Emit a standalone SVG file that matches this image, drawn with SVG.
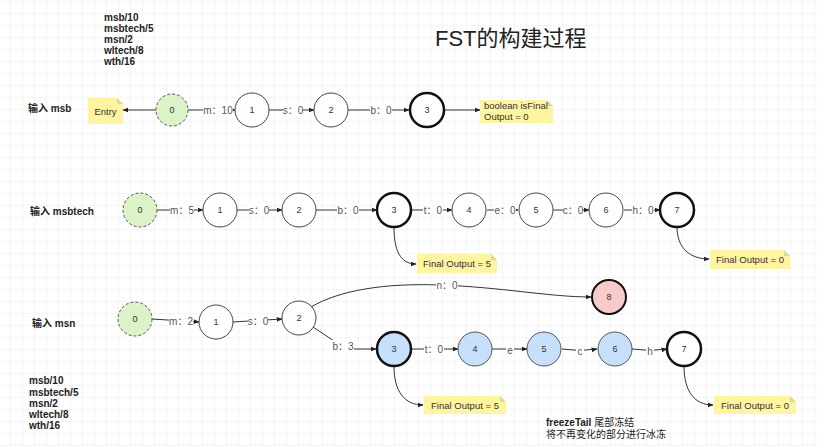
<svg xmlns="http://www.w3.org/2000/svg" width="818" height="446" viewBox="0 0 818 446">
<defs>
<pattern id="grid" x="10" y="1" width="12" height="12" patternUnits="userSpaceOnUse">
<path d="M0,0 H12 M0,0 V12" fill="none" stroke="#ececec" stroke-width="1"/>
</pattern>
<marker id="arr" viewBox="0 0 10 10" refX="9" refY="5" markerWidth="6" markerHeight="6" orient="auto" markerUnits="userSpaceOnUse">
<path d="M0,1 L10,5 L0,9 Z" fill="#222"/>
</marker>
</defs>
<style>
text{font-family:"Liberation Sans","Noto Sans CJK SC",sans-serif;}
.t{font-size:10px;font-weight:bold;fill:#222;}
.n{fill:#fff;stroke:#444;stroke-width:1;}
.thick{fill:#fff;stroke:#111;stroke-width:2.5;}
.start{fill:#dcf2c8;stroke:#555;stroke-width:1;stroke-dasharray:3 2;}
.blue{fill:#c7e0f9;stroke:#555;stroke-width:1;}
.bluethick{fill:#c7e0f9;stroke:#111;stroke-width:2.5;}
.red{fill:#f8caca;stroke:#111;stroke-width:2;}
.nl{font-size:9px;fill:#333;text-anchor:middle;dominant-baseline:central;}
.e{fill:none;stroke:#333;stroke-width:1;marker-end:url(#arr);}
.lb{fill:#fff;}
.el{font-size:10px;fill:#555;text-anchor:middle;dominant-baseline:central;}
.note{fill:#fff4a0;}
.fold{fill:#e0d89a;}
.ntx{font-size:9.5px;fill:#333;}
</style>
<rect width="818" height="446" fill="#fff"/>
<rect width="818" height="446" fill="url(#grid)"/>

<g id="title"><text x="435" y="46" font-size="22" fill="#222">FST的构建过程</text></g>

<g id="list-top">
<text class="t" x="104" y="21">msb/10</text>
<text class="t" x="104" y="32">msbtech/5</text>
<text class="t" x="104" y="43">msn/2</text>
<text class="t" x="104" y="54">wltech/8</text>
<text class="t" x="104" y="65">wth/16</text>
</g>
<g id="list-bottom">
<text class="t" x="29" y="384">msb/10</text>
<text class="t" x="29" y="396">msbtech/5</text>
<text class="t" x="29" y="407">msn/2</text>
<text class="t" x="29" y="418">wltech/8</text>
<text class="t" x="29" y="429">wth/16</text>
</g>

<g id="labels">
<text class="t" x="28" y="112">输入 msb</text>
<text class="t" x="30" y="215">输入 msbtech</text>
<text class="t" x="32" y="327">输入 msn</text>
</g>

<g id="connectors">
<!-- row 1 -->
<path class="e" d="M156,110 L123,110"/>
<path class="e" d="M188,110 L235,110"/>
<path class="e" d="M269,110 L314,110"/>
<path class="e" d="M348,110 L409,110"/>
<path class="e" d="M445,110 L480,110"/>
<rect class="lb" x="203" y="104" width="30" height="12"/><text class="el" x="218" y="110.5">m：10</text>
<rect class="lb" x="283" y="104" width="20" height="12"/><text class="el" x="293" y="110.5">s：0</text>
<rect class="lb" x="370" y="104" width="22" height="12"/><text class="el" x="381" y="110.5">b：0</text>
<!-- row 2 -->
<path class="e" d="M157,210 L203,210"/>
<path class="e" d="M237,210 L282,210"/>
<path class="e" d="M316,210 L377,210"/>
<path class="e" d="M412,210 L452,210"/>
<path class="e" d="M487,210 L518,210"/>
<path class="e" d="M553,210 L589,210"/>
<path class="e" d="M624,210 L660,210"/>
<path class="e" d="M394,227 C394,250 400,264 416,264"/>
<path class="e" d="M677,227 C677,248 690,259 709,259"/>
<rect class="lb" x="170" y="204" width="24" height="12"/><text class="el" x="182" y="210.5">m：5</text>
<rect class="lb" x="249" y="204" width="20" height="12"/><text class="el" x="259" y="210.5">s：0</text>
<rect class="lb" x="337" y="204" width="22" height="12"/><text class="el" x="348" y="210.5">b：0</text>
<rect class="lb" x="423" y="204" width="20" height="12"/><text class="el" x="433" y="210.5">t：0</text>
<rect class="lb" x="494" y="204" width="22" height="12"/><text class="el" x="505" y="210.5">e：0</text>
<rect class="lb" x="563" y="204" width="20" height="12"/><text class="el" x="573" y="210.5">c：0</text>
<rect class="lb" x="632" y="204" width="22" height="12"/><text class="el" x="643" y="210.5">h：0</text>
<!-- row 3 -->
<path class="e" d="M152,319 L199,322"/>
<path class="e" d="M233,322 L282,319"/>
<path class="e" d="M311,307 C340,290 385,283 440,285 C500,287 550,297 591,297"/>
<path class="e" d="M313,327 L337,343 Q342,348 352,349 L376,349"/>
<path class="e" d="M411,349 L458,349"/>
<path class="e" d="M492,349 L527,349"/>
<path class="e" d="M562,349 Q580,352 597,349"/>
<path class="e" d="M632,349 Q650,352 667,349"/>
<path class="e" d="M394,366 C394,392 405,405 423,405"/>
<path class="e" d="M684,366 C684,392 695,405 713,405"/>
<rect class="lb" x="169" y="315" width="24" height="12"/><text class="el" x="181" y="321">m：2</text>
<rect class="lb" x="248" y="315" width="20" height="12"/><text class="el" x="258" y="321">s：0</text>
<rect class="lb" x="436" y="279" width="22" height="12"/><text class="el" x="447" y="285.5">n：0</text>
<rect class="lb" x="332" y="340" width="22" height="12"/><text class="el" x="343" y="346">b：3</text>
<rect class="lb" x="424" y="343" width="20" height="12"/><text class="el" x="434" y="349.5">t：0</text>
<rect class="lb" x="506" y="344" width="8" height="12"/><text class="el" x="510" y="350">e</text>
<rect class="lb" x="576" y="345" width="8" height="12"/><text class="el" x="580" y="351.5">c</text>
<rect class="lb" x="646" y="345" width="8" height="12"/><text class="el" x="650" y="351.5">h</text>
</g>

<!-- notes -->
<g id="note-entry">
<path class="note" d="M88,98 H117 L123,104 V124 H88 Z"/>
<path class="fold" d="M117,98 L123,104 H117 Z"/>
<text class="ntx" x="105.5" y="115" text-anchor="middle">Entry</text>
</g>
<g id="note-isfinal">
<path class="note" d="M480,100 H547 L553,106 V123 H480 Z"/>
<path class="fold" d="M547,100 L553,106 H547 Z"/>
<text class="ntx" x="484" y="109">boolean isFinal</text>
<text class="ntx" x="484" y="120">Output = 0</text>
</g>
<g id="note-r2-5">
<path class="note" d="M417,254 H491 L497,260 V273 H417 Z"/>
<path class="fold" d="M491,254 L497,260 H491 Z"/>
<text class="ntx" x="457" y="267" text-anchor="middle">Final Output = 5</text>
</g>
<g id="note-r2-0">
<path class="note" d="M710,250 H784 L790,256 V269 H710 Z"/>
<path class="fold" d="M784,250 L790,256 H784 Z"/>
<text class="ntx" x="750" y="263" text-anchor="middle">Final Output = 0</text>
</g>
<g id="note-r3-5">
<path class="note" d="M424,396 H500 L506,402 V414 H424 Z"/>
<path class="fold" d="M500,396 L506,402 H500 Z"/>
<text class="ntx" x="465" y="408.5" text-anchor="middle">Final Output = 5</text>
</g>
<g id="note-r3-0">
<path class="note" d="M714,396 H790 L796,402 V414 H714 Z"/>
<path class="fold" d="M790,396 L796,402 H790 Z"/>
<text class="ntx" x="755" y="408.5" text-anchor="middle">Final Output = 0</text>
</g>

<!-- row 1 nodes -->
<g id="r1-n0"><circle class="start" cx="172" cy="110" r="16"/><text class="nl" x="172" y="110">0</text></g>
<g id="r1-n1"><circle class="n" cx="252" cy="110" r="17"/><text class="nl" x="252" y="110">1</text></g>
<g id="r1-n2"><circle class="n" cx="331" cy="110" r="17"/><text class="nl" x="331" y="110">2</text></g>
<g id="r1-n3"><circle class="thick" cx="427" cy="110" r="17"/><text class="nl" x="427" y="110">3</text></g>

<!-- row 2 nodes -->
<g id="r2-n0"><circle class="start" cx="140" cy="210" r="17"/><text class="nl" x="140" y="210">0</text></g>
<g id="r2-n1"><circle class="n" cx="220" cy="210" r="17"/><text class="nl" x="220" y="210">1</text></g>
<g id="r2-n2"><circle class="n" cx="299" cy="210" r="17"/><text class="nl" x="299" y="210">2</text></g>
<g id="r2-n3"><circle class="thick" cx="394" cy="210" r="17"/><text class="nl" x="394" y="210">3</text></g>
<g id="r2-n4"><circle class="n" cx="469" cy="210" r="17"/><text class="nl" x="469" y="210">4</text></g>
<g id="r2-n5"><circle class="n" cx="536" cy="210" r="17"/><text class="nl" x="536" y="210">5</text></g>
<g id="r2-n6"><circle class="n" cx="606" cy="210" r="17"/><text class="nl" x="606" y="210">6</text></g>
<g id="r2-n7"><circle class="thick" cx="677" cy="210" r="17"/><text class="nl" x="677" y="210">7</text></g>

<!-- row 3 nodes -->
<g id="r3-n0"><circle class="start" cx="135" cy="319" r="17"/><text class="nl" x="135" y="319">0</text></g>
<g id="r3-n1"><circle class="n" cx="216" cy="322" r="17"/><text class="nl" x="216" y="322">1</text></g>
<g id="r3-n2"><circle class="n" cx="299" cy="318" r="17"/><text class="nl" x="299" y="318">2</text></g>
<g id="r3-n3"><circle class="bluethick" cx="394" cy="349" r="17"/><text class="nl" x="394" y="349">3</text></g>
<g id="r3-n4"><circle class="blue" cx="475" cy="349" r="17"/><text class="nl" x="475" y="349">4</text></g>
<g id="r3-n5"><circle class="blue" cx="544" cy="349" r="17"/><text class="nl" x="544" y="349">5</text></g>
<g id="r3-n6"><circle class="blue" cx="615" cy="349" r="17"/><text class="nl" x="615" y="349">6</text></g>
<g id="r3-n7"><circle class="thick" cx="684" cy="349" r="17"/><text class="nl" x="684" y="349">7</text></g>
<g id="r3-n8"><circle class="red" cx="609" cy="297" r="17"/><text class="nl" x="609" y="297">8</text></g>

<g id="freeze-text">
<text x="546" y="426" font-size="10" fill="#222"><tspan font-weight="bold">freezeTail</tspan> 尾部冻结</text>
<text x="546" y="438" font-size="10" fill="#222">将不再变化的部分进行冰冻</text>
</g>
</svg>
